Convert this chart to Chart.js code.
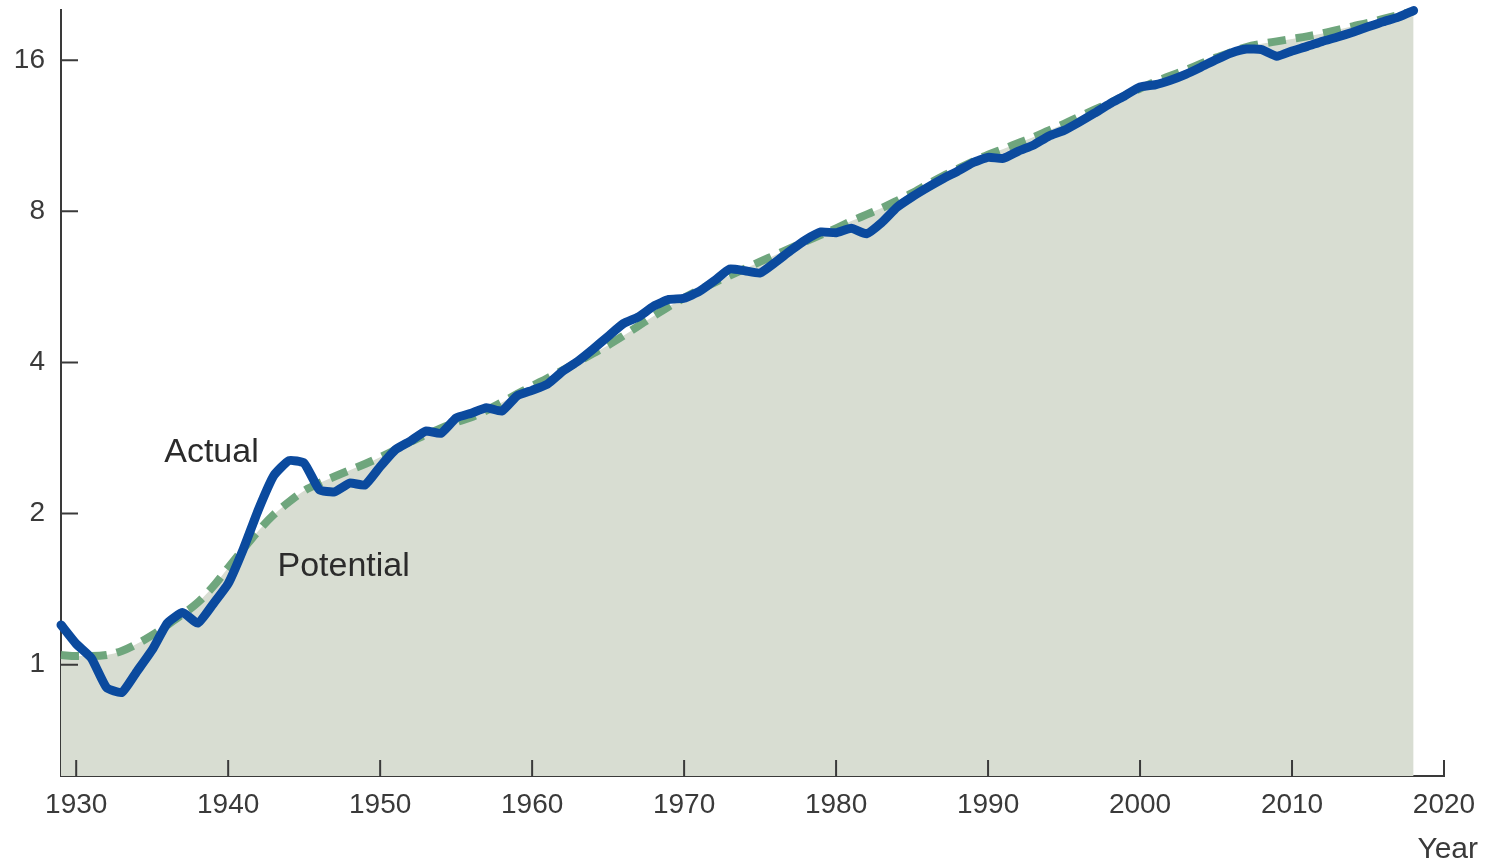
<!DOCTYPE html>
<html>
<head>
<meta charset="utf-8">
<title>Actual and potential output</title>
<script src="https://cdn.jsdelivr.net/npm/chart.js@4/dist/chart.umd.min.js"></script>
<style>
    html, body { margin: 0; padding: 0; background: #fff; }
    #wrap { width: 1492px; height: 864px; position: relative; }
</style>
</head>
<body>
<div id="wrap"><canvas id="output-chart"></canvas></div>
<script>
// Years on the x axis
const years = [
    1929, 1930, 1931, 1932, 1933, 1934, 1935, 1936, 1937, 1938,
    1939, 1940, 1941, 1942, 1943, 1944, 1945, 1946, 1947, 1948,
    1949, 1950, 1951, 1952, 1953, 1954, 1955, 1956, 1957, 1958,
    1959, 1960, 1961, 1962, 1963, 1964, 1965, 1966, 1967, 1968,
    1969, 1970, 1971, 1972, 1973, 1974, 1975, 1976, 1977, 1978,
    1979, 1980, 1981, 1982, 1983, 1984, 1985, 1986, 1987, 1988,
    1989, 1990, 1991, 1992, 1993, 1994, 1995, 1996, 1997, 1998,
    1999, 2000, 2001, 2002, 2003, 2004, 2005, 2006, 2007, 2008,
    2009, 2010, 2011, 2012, 2013, 2014, 2015, 2016, 2017, 2018
];

// Actual output (log scale)
const actual = [
    1.20, 1.10, 1.03, 0.90, 0.88, 0.97, 1.07, 1.21, 1.27, 1.21,
    1.32, 1.45, 1.70, 2.04, 2.38, 2.55, 2.52, 2.23, 2.21, 2.30,
    2.28, 2.48, 2.68, 2.79, 2.92, 2.89, 3.10, 3.17, 3.25, 3.20,
    3.43, 3.52, 3.62, 3.84, 4.02, 4.25, 4.51, 4.78, 4.93, 5.18,
    5.34, 5.37, 5.54, 5.82, 6.14, 6.09, 6.03, 6.33, 6.68, 7.02,
    7.28, 7.25, 7.40, 7.22, 7.60, 8.15, 8.55, 8.92, 9.28, 9.62,
    10.0, 10.25, 10.2, 10.55, 10.85, 11.3, 11.6, 12.05, 12.55, 13.1,
    13.6, 14.15, 14.3, 14.6, 15.0, 15.5, 16.05, 16.55, 16.85, 16.8,
    16.3, 16.7, 17.05, 17.45, 17.8, 18.2, 18.65, 19.1, 19.5, 20.1
];

// Potential output
const potential = [
    1.045, 1.04, 1.04, 1.045, 1.065, 1.10, 1.145, 1.20, 1.26, 1.33,
    1.43, 1.56, 1.70, 1.85, 1.99, 2.11, 2.22, 2.30, 2.37, 2.44,
    2.51, 2.59, 2.68, 2.78, 2.87, 2.96, 3.04, 3.11, 3.21, 3.33,
    3.46, 3.59, 3.72, 3.86, 4.01, 4.17, 4.33, 4.52, 4.73, 4.95,
    5.17, 5.38, 5.58, 5.77, 5.96, 6.15, 6.35, 6.55, 6.76, 6.97,
    7.18, 7.40, 7.65, 7.88, 8.12, 8.40, 8.70, 9.05, 9.40, 9.72,
    10.05, 10.38, 10.65, 10.95, 11.25, 11.6, 11.95, 12.35, 12.75, 13.15,
    13.6, 14.05, 14.5, 14.9, 15.3, 15.75, 16.2, 16.6, 17.0, 17.25,
    17.45, 17.65, 17.85, 18.1, 18.4, 18.7, 19.0, 19.35, 19.7, 20.05
];

const xTicks = [1930, 1940, 1950, 1960, 1970, 1980, 1990, 2000, 2010, 2020];
const yTicks = [1, 2, 4, 8, 16];

const axisColor = '#3a3a3a';
const fontFamily = '"Liberation Sans", Arial, sans-serif';

function toPoints(values) {
    return values.map((v, i) => ({ x: years[i], y: v }));
}

// Inward tick marks plus the in-plot labels
const decorations = {
    id: 'decorations',
    afterDraw(chart) {
        const { ctx, chartArea } = chart;
        const xs = chart.scales.x;
        const ys = chart.scales.y;
        ctx.save();
        ctx.strokeStyle = axisColor;
        ctx.lineWidth = 2;
        ctx.beginPath();
        xTicks.forEach(t => {
            const px = xs.getPixelForValue(t);
            ctx.moveTo(px, chartArea.bottom);
            ctx.lineTo(px, chartArea.bottom - 16);
        });
        yTicks.forEach(t => {
            const py = ys.getPixelForValue(t);
            ctx.moveTo(chartArea.left, py);
            ctx.lineTo(chartArea.left + 17, py);
        });
        ctx.stroke();

        ctx.fillStyle = '#2b2b2b';
        ctx.font = '34px ' + fontFamily;
        ctx.textAlign = 'center';
        ctx.textBaseline = 'middle';
        ctx.fillText('Actual', xs.getPixelForValue(1938.9), ys.getPixelForValue(2.65));
        ctx.fillText('Potential', xs.getPixelForValue(1947.6), ys.getPixelForValue(1.57));

        ctx.fillStyle = axisColor;
        ctx.font = '30px ' + fontFamily;
        ctx.textAlign = 'right';
        ctx.fillText('Year', chartArea.right + 34, chartArea.bottom + 74);
        ctx.restore();
    }
};

const ctx = document.getElementById('output-chart').getContext('2d');
new Chart(ctx, {
    type: 'line',
    data: {
        datasets: [{
            label: 'Actual',
            data: toPoints(actual),
            borderColor: '#0b4a9e',
            borderWidth: 9,
            borderJoinStyle: 'round',
            borderCapStyle: 'round',
            pointRadius: 0,
            tension: 0.15,
            fill: false,
            clip: false
        }, {
            label: 'Potential',
            data: toPoints(potential),
            borderColor: '#6fa67d',
            backgroundColor: '#d8ddd2',
            borderWidth: 8,
            borderDash: [18, 10],
            pointRadius: 0,
            cubicInterpolationMode: 'monotone',
            fill: 'start',
            clip: false
        }]
    },
    options: {
        responsive: true,
        maintainAspectRatio: false,
        animation: false,
        layout: { padding: { top: 10, right: 48, left: 0, bottom: 0 } },
        plugins: {
            legend: { display: false },
            tooltip: { enabled: false }
        },
        scales: {
            x: {
                type: 'linear',
                min: 1929,
                max: 2020,
                grid: { display: false, drawTicks: false },
                border: { display: true, color: axisColor, width: 2 },
                afterBuildTicks: scale => { scale.ticks = xTicks.map(v => ({ value: v })); },
                afterFit: scale => {
                    scale.height = 88;
                    scale.paddingLeft = 0;
                    scale.paddingRight = 0;
                },
                ticks: {
                    color: axisColor,
                    padding: 12,
                    maxRotation: 0,
                    font: { family: fontFamily, size: 28 },
                    callback: v => String(v)
                }
            },
            y: {
                type: 'logarithmic',
                min: 0.6,
                max: 20.15,
                grid: { display: false, drawTicks: false },
                border: { display: true, color: axisColor, width: 2 },
                afterBuildTicks: scale => { scale.ticks = yTicks.map(v => ({ value: v })); },
                afterFit: scale => {
                    scale.width = 61;
                    scale.paddingTop = 0;
                    scale.paddingBottom = 0;
                },
                ticks: {
                    color: axisColor,
                    padding: 16,
                    font: { family: fontFamily, size: 28 },
                    callback: v => String(v)
                }
            }
        }
    },
    plugins: [decorations]
});
</script>
</body>
</html>
